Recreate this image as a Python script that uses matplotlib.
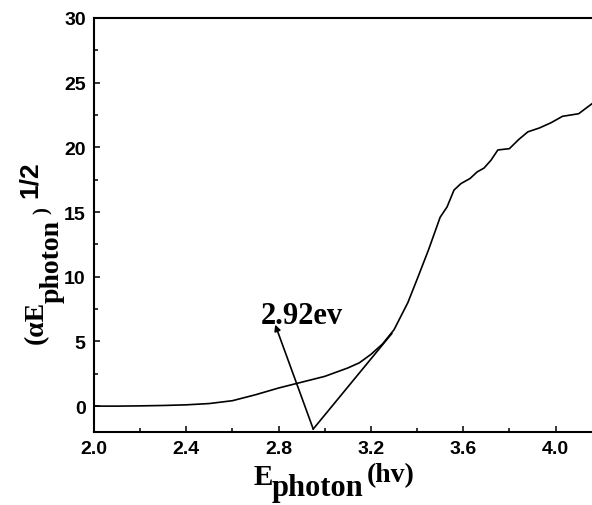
import matplotlib
matplotlib.use("Agg")
import matplotlib.pyplot as plt
from matplotlib.ticker import MultipleLocator

# Data
energy = [2.0, 2.1, 2.2, 2.3, 2.4, 2.5, 2.6, 2.7, 2.8, 2.9, 3.0, 3.1, 3.15, 3.2,
          3.25, 3.3, 3.36, 3.40, 3.45, 3.48, 3.50, 3.53, 3.56, 3.59, 3.63, 3.66,
          3.69, 3.72, 3.75, 3.80, 3.84, 3.88, 3.93, 3.98, 4.03, 4.10, 4.16]
signal = [0.0, 0.0, 0.02, 0.05, 0.1, 0.2, 0.42, 0.88, 1.4, 1.85, 2.3, 2.95, 3.35, 4.0,
          4.8, 5.9, 8.0, 9.8, 12.1, 13.6, 14.6, 15.4, 16.7, 17.2, 17.6, 18.1,
          18.4, 19.0, 19.8, 19.9, 20.6, 21.2, 21.5, 21.9, 22.4, 22.6, 23.4]
tangent_x = [2.95, 3.29]
tangent_y = [-1.77, 5.6]
arrow_start = (2.95, -1.77)
arrow_end = (2.785, 6.3)
gap_label = "2.92ev"
x_ticks = [2.0, 2.4, 2.8, 3.2, 3.6, 4.0]
y_ticks = [0, 5, 10, 15, 20, 25, 30]

W, H = 592, 506
fig = plt.figure(figsize=(W / 100, H / 100), dpi=100)
ax = fig.add_axes([94 / W, 1 - 433 / H, 498 / W, (433 - 19) / H])

ax.plot(energy, signal, color="black", lw=1.2)
ax.plot(tangent_x, tangent_y, color="black", lw=1.2)
ax.annotate("", xy=arrow_end, xytext=arrow_start,
            arrowprops=dict(arrowstyle="-|>", color="black", lw=1.2,
                            mutation_scale=9, shrinkA=0, shrinkB=0))

ax.set_xlim(2.0, 4.158)
ax.set_ylim(-2, 30)
ax.set_xticks(x_ticks)
ax.set_yticks(y_ticks)
ax.xaxis.set_minor_locator(MultipleLocator(0.2))
ax.yaxis.set_minor_locator(MultipleLocator(2.5))
ax.set_xticklabels([f"{v:.1f}" for v in x_ticks])
ax.set_yticklabels([str(v) for v in y_ticks])
ax.tick_params(which="major", direction="in", length=4.5, width=1.1,
               labelsize=14, pad=6)
ax.tick_params(which="minor", direction="in", length=3, width=1.1)
for lab in ax.get_xticklabels() + ax.get_yticklabels():
    lab.set_fontfamily("Liberation Sans")
    lab.set_fontweight("bold")
for side in ["left", "bottom", "top"]:
    ax.spines[side].set_linewidth(1.5)
ax.spines["right"].set_visible(False)

serif = dict(family="Liberation Serif", weight="bold", color="black")

def ftext(px, py, s, size, rot=0, **kw):
    fig.text(px / W, 1 - py / H, s, fontsize=size, rotation=rot,
             rotation_mode="anchor", ha="left", va="baseline", **kw)

# Annotation text
ftext(261, 324, gap_label, 22, **serif)

# X label
ftext(254, 485, "E", 21, **serif)
ftext(272, 496, "photon", 22, **serif)
ftext(367, 482, "(hv)", 20, **serif)

# Y label (rotated)
ftext(43, 344, "(αE", 20, rot=90, **serif)
ftext(59, 303, "photon", 20, rot=90, **serif)
ftext(48, 214, ")", 15, rot=90, **serif)
ftext(37, 198, "1/2", 19, rot=90, family="Liberation Sans", weight="bold")

fig.savefig("out.png", dpi=100)
